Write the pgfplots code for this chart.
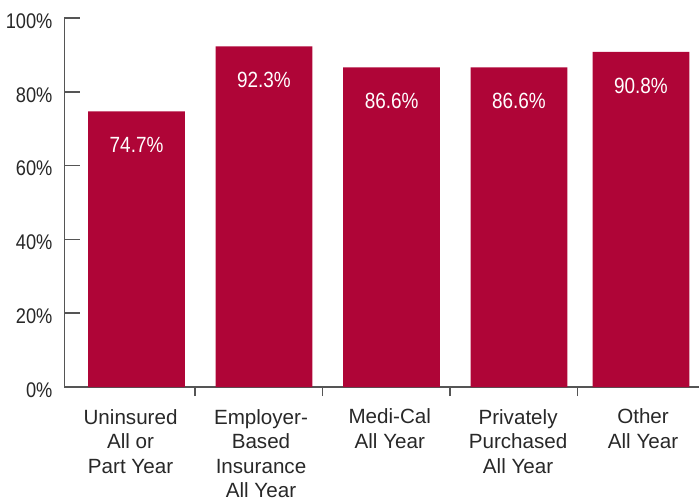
\documentclass[border=0pt]{standalone}
\usepackage{pgfplots}
\pgfplotsset{compat=1.18}
\usepackage{fontspec}
\setmainfont{Liberation Sans}
\newfontfamily\narrowfont{Liberation Sans}[FakeStretch=0.86]
\definecolor{barred}{RGB}{175,5,55}
\definecolor{axiscol}{RGB}{85,85,85}
\definecolor{txtcol}{RGB}{40,40,40}
\begin{document}
\begin{tikzpicture}
\begin{axis}[
  scale only axis,
  width=317.25pt, height=184.5pt,
  xmin=0, xmax=4.976,
  ymin=0, ymax=100,
  axis x line*=bottom,
  axis y line*=left,
  axis line style={draw=axiscol, line width=0.8pt},
  /pgf/number format/assume math mode=true,
  ytick={0,20,40,60,80,100},
  yticklabel={\pgfmathprintnumber{\tick}\%},
  tick align=inside,
  major tick length=7.5pt,
  minor tick length=4.5pt,
  ytick style={draw=axiscol, line width=0.8pt},
  xtick={0.518,1.541,2.551,3.557,4.537},
  xtick style={draw=none},
  minor xtick={1.024,2.024,3.024,4.024},
  minor x tick style={draw=axiscol, line width=0.8pt},
  xticklabels={{Uninsured\\All or\\Part Year},{Employer-\\Based\\Insurance\\All Year},{Medi-Cal\\All Year},{Privately\\Purchased\\All Year},{Other\\All Year}},
  xticklabel style={align=center, anchor=north, yshift=0pt, font=\fontsize{10.3pt}{12.3pt}\selectfont, text=txtcol},
  yticklabel style={xshift=-2.5pt, yshift=-1.5pt, font=\narrowfont\fontsize{10.6pt}{12.5pt}\selectfont, text=txtcol},
  ybar, bar width=48.35pt,
  nodes near coords={\pgfmathprintnumber[fixed,precision=1,fixed zerofill]{\pgfplotspointmeta}\%},
  every node near coord/.append style={anchor=north, yshift=-9.5pt, text=white, font=\narrowfont\fontsize{11pt}{13pt}\selectfont, /pgf/number format/assume math mode=true},
  clip=false,
]
\addplot[fill=barred, draw=none] coordinates {(0.565,74.7) (1.564,92.3) (2.565,86.6) (3.564,86.6) (4.521,90.8)};
\end{axis}
\pgfresetboundingbox
\path ([xshift=-32.25pt,yshift=-57.5pt]current axis.south west) rectangle ([yshift=9pt]current axis.north east);
\end{tikzpicture}
\end{document}
